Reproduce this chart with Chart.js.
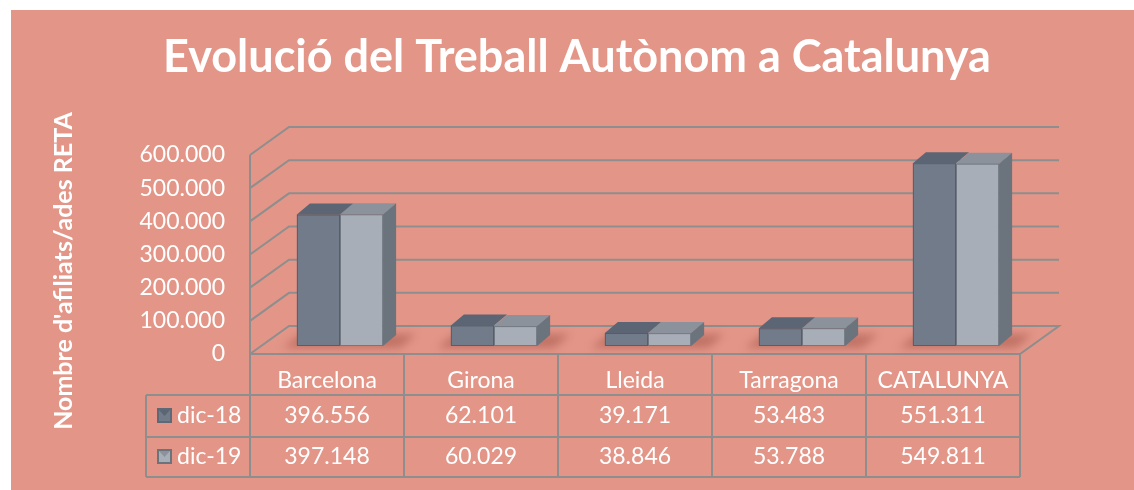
<!DOCTYPE html>
<html>
<head>
<meta charset="utf-8">
<script src="https://cdn.jsdelivr.net/npm/chart.js@4.4.1/dist/chart.umd.min.js"></script>
<style>
  body { margin: 0; background: #fff; }
  #wrap { width: 1134px; height: 490px; }
</style>
</head>
<body>
<div id="wrap"><canvas id="chart"></canvas></div>
<script>
const categories = ['Barcelona', 'Girona', 'Lleida', 'Tarragona', 'CATALUNYA'];
const seriesLabels = ['dic-18', 'dic-19'];
const dic18 = [396556, 62101, 39171, 53483, 551311];
const dic19 = [397148, 60029, 38846, 53788, 549811];
const yTicks = [0, 100000, 200000, 300000, 400000, 500000, 600000];

const FONT = 'Lato';
const BG = '#E39688';
const GRID = '#8E8E8E';
const DEPTH = { x: 39, y: -28 };      // wall depth
const BAR_SHIFT = { x: 13, y: -8 };   // bars sit a bit inside the floor
const BAR_DEPTH = { x: 13, y: -11 };
const faces = [
  { front: '#717B8A', top: '#5C6573', side: '#5F6875' },
  { front: '#A8AEB8', top: '#8B929C', side: '#6B737D' }
];

function fmt(n) {
  return String(n).replace(/\B(?=(\d{3})+(?!\d))/g, '.');
}

const panel = {
  id: 'panel',
  beforeDraw(chart) {
    const c = chart.ctx;
    c.save();
    c.fillStyle = '#fff';
    c.fillRect(0, 0, chart.width, chart.height);
    c.fillStyle = BG;
    c.fillRect(11, 10, chart.width - 11, chart.height - 10);
    c.fillStyle = '#fff';
    c.font = 'bold 45px ' + FONT;
    c.textAlign = 'center';
    c.textBaseline = 'alphabetic';
    c.fillText('Evolució del Treball Autònom a Catalunya', 577, 72);
    c.restore();
  },
  beforeDatasetsDraw(chart) {
    const c = chart.ctx;
    const y = chart.scales.y;
    const a = chart.chartArea;
    c.save();
    c.strokeStyle = GRID;
    c.lineWidth = 2;
    // back + left walls
    yTicks.forEach(v => {
      const py = y.getPixelForValue(v);
      c.beginPath();
      c.moveTo(a.left, py);
      c.lineTo(a.left + DEPTH.x, py + DEPTH.y);
      c.lineTo(a.right + DEPTH.x, py + DEPTH.y);
      if (v === 0) {
        c.lineTo(a.right, py);
        c.lineTo(a.left, py);
      }
      c.stroke();
    });
    c.beginPath();
    c.moveTo(a.left, y.getPixelForValue(600000));
    c.lineTo(a.left, a.bottom);
    c.stroke();
    c.restore();

    // bars are drawn shifted into the floor
    c.save();
    c.translate(BAR_SHIFT.x, BAR_SHIFT.y);
    const m0 = chart.getDatasetMeta(0).data;
    const m1 = chart.getDatasetMeta(1).data;
    m0.forEach((b0, i) => {
      const b1 = m1[i];
      const x0 = b0.x - b0.width / 2;
      const x1 = b1.x + b1.width / 2 + BAR_DEPTH.x;
      const base = b0.base;
      c.save();
      c.filter = 'blur(4px)';
      c.fillStyle = 'rgba(150,70,60,0.45)';
      c.beginPath();
      c.moveTo(x0 - 14, base + 2);
      c.lineTo(x1 + 4, base + 2);
      c.lineTo(x1 + 20, base - 12);
      c.lineTo(x0 + 4, base - 12);
      c.closePath();
      c.fill();
      c.restore();
    });
  },
  // Chart.js paints dataset 1 first, then dataset 0 over it
  afterDatasetDraw(chart, args) {
    const c = chart.ctx;
    const f = faces[args.index];
    args.meta.data.forEach(b => {
      const l = b.x - b.width / 2, r = b.x + b.width / 2, t = b.y, bo = b.base;
      c.fillStyle = f.top;
      c.beginPath();
      c.moveTo(l, t);
      c.lineTo(l + BAR_DEPTH.x, t + BAR_DEPTH.y);
      c.lineTo(r + BAR_DEPTH.x, t + BAR_DEPTH.y);
      c.lineTo(r, t);
      c.closePath();
      c.fill();
      if (args.index === 1) {
        c.fillStyle = f.side;
        c.beginPath();
        c.moveTo(r, t);
        c.lineTo(r + BAR_DEPTH.x, t + BAR_DEPTH.y);
        c.lineTo(r + BAR_DEPTH.x, bo + BAR_DEPTH.y);
        c.lineTo(r, bo);
        c.closePath();
        c.fill();
      }
      c.strokeStyle = 'rgba(60,66,76,0.5)';
      c.lineWidth = 1;
      c.strokeRect(l + 0.5, t + 0.5, b.width - 1, bo - t - 1);
    });
  },
  afterDatasetsDraw(chart) {
    chart.ctx.restore();
  },
  afterDraw(chart) {
    const c = chart.ctx;
    const x = chart.scales.x;
    const a = chart.chartArea;
    const colW = (a.right - a.left) / categories.length;
    const rows = [395, 437, 477];
    const legendLeft = 146;
    c.save();
    c.strokeStyle = GRID;
    c.lineWidth = 2;
    for (let k = 0; k <= categories.length; k++) {
      const px = a.left + k * colW;
      c.beginPath();
      c.moveTo(px, a.bottom);
      c.lineTo(px, rows[2]);
      c.stroke();
    }
    rows.forEach(ry => {
      c.beginPath();
      c.moveTo(legendLeft, ry);
      c.lineTo(a.right, ry);
      c.stroke();
    });
    c.beginPath();
    c.moveTo(legendLeft, rows[0]);
    c.lineTo(legendLeft, rows[2]);
    c.stroke();

    c.fillStyle = '#fff';
    c.font = '23px ' + FONT;
    c.textAlign = 'center';
    c.textBaseline = 'middle';
    const rowY = [381, 416, 457];
    categories.forEach((cat, i) => {
      const cx = x.getPixelForValue(i);
      c.fillText(cat, cx, rowY[0]);
      c.fillText(fmt(dic18[i]), cx, rowY[1]);
      c.fillText(fmt(dic19[i]), cx, rowY[2]);
    });
    // legend keys
    seriesLabels.forEach((lab, j) => {
      const ky = rowY[j + 1];
      const f = faces[j];
      c.fillStyle = f.side;
      c.fillRect(157, ky - 8, 15, 15);
      c.fillStyle = f.front;
      c.fillRect(159, ky - 6, 11, 11);
      c.fillStyle = f.top;
      c.beginPath();
      c.moveTo(159, ky - 6);
      c.lineTo(170, ky - 6);
      c.lineTo(164.5, ky);
      c.closePath();
      c.fill();
      c.fillStyle = '#fff';
      c.textAlign = 'left';
      c.fillText(lab, 177, ky);
    });
    // axis title
    c.font = 'bold 25px ' + FONT;
    c.textAlign = 'center';
    c.translate(64, 271);
    c.rotate(-Math.PI / 2);
    c.fillText("Nombre d'afiliats/ades RETA", 0, 0);
    c.restore();
  }
};

new Chart(document.getElementById('chart'), {
  type: 'bar',
  data: {
    labels: categories,
    datasets: [
      { label: seriesLabels[0], data: dic18, backgroundColor: faces[0].front },
      { label: seriesLabels[1], data: dic19, backgroundColor: faces[1].front }
    ]
  },
  options: {
    responsive: true,
    maintainAspectRatio: false,
    animation: false,
    events: [],
    clip: false,
    datasets: {
      bar: { categoryPercentage: 0.56, barPercentage: 1, borderWidth: 0 }
    },
    layout: { padding: { top: 155, left: 0, right: 114, bottom: 136 } },
    scales: {
      x: { display: false, offset: true },
      y: {
        min: 0,
        max: 600000,
        afterFit: s => { s.width = 250; },
        border: { display: false },
        grid: { display: false, drawTicks: false },
        ticks: {
          stepSize: 100000,
          padding: 25,
          color: '#fff',
          font: { family: FONT, size: 23 },
          callback: v => fmt(v)
        }
      }
    },
    plugins: {
      legend: { display: false },
      tooltip: { enabled: false }
    }
  },
  plugins: [panel]
});
</script>
</body>
</html>
